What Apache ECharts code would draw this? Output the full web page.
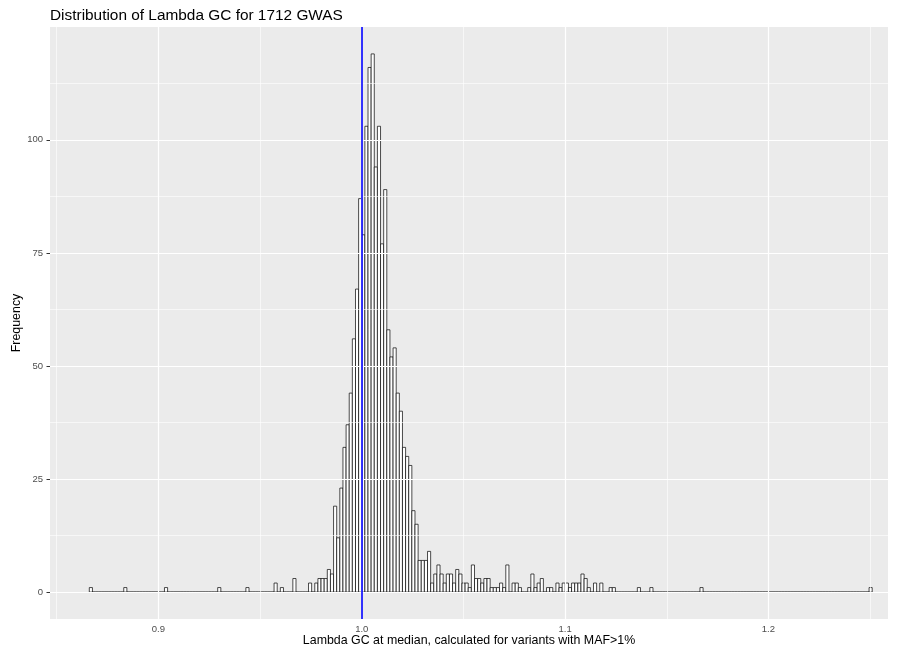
<!DOCTYPE html>
<html><head><meta charset="utf-8">
<script src="https://cdn.jsdelivr.net/npm/echarts@6/dist/echarts.min.js"></script>
<style>html,body{margin:0;padding:0;background:#fff}#c{width:900px;height:653px}</style>
</head><body><div id="c"></div>
<script>
// Histogram bins (250 equal-width bins; first bin centred on the smallest value)
const binFirstCenter = 0.8668;
const binWidth = 0.00154;
const binTotal = 250;
// Non-empty bins: index and frequency
const binIndex = [0, 11, 24, 41, 50, 59, 61, 65, 70, 72, 73, 74, 75, 76, 77,
  78, 79, 80, 81, 82, 83, 84, 85, 86, 87, 88, 89, 90, 91, 92, 93, 94, 95, 96, 97, 98, 99,
  100, 101, 102, 103, 104, 105, 106, 107, 108, 109, 110, 111, 112, 113, 114, 115, 116, 117,
  118, 119, 120, 121, 122, 123, 124, 125, 126, 127, 128, 129, 130, 131, 132, 133,
  135, 136, 137, 140, 141, 142, 143, 144, 146, 147, 149, 150, 151, 152, 153, 154, 155, 156,
  157, 158, 159, 161, 163, 166, 167, 175, 179, 195, 249];
const binFreq = [1, 1, 1, 1, 1, 2, 1, 3, 2, 2, 3, 3, 3, 5, 4,
  19, 12, 23, 32, 37, 44, 56, 67, 87, 79, 103, 116, 119, 94, 103, 77, 89, 58, 52, 54, 44, 40,
  32, 30, 28, 18, 15, 7, 7, 7, 9, 2, 4, 6, 4, 2, 4, 4, 2, 5,
  4, 2, 2, 1, 6, 3, 3, 2, 3, 3, 1, 1, 1, 2, 1, 6,
  2, 2, 1, 1, 4, 1, 2, 3, 1, 1, 2, 1, 2, 2, 1, 2, 2, 2,
  4, 3, 1, 2, 2, 1, 1, 1, 1, 1, 1];
const xTickValues = [0.9, 1.0, 1.1, 1.2];
const xMinorValues = [0.85, 0.95, 1.05, 1.15, 1.25];
const yTickValues = [0, 25, 50, 75, 100];
const yMinorValues = [12.5, 37.5, 62.5, 87.5, 112.5];
const referenceLine = 1.0;
const titleText = 'Distribution of Lambda GC for 1712 GWAS';
const xTitle = 'Lambda GC at median, calculated for variants with MAF>1%';
const yTitle = 'Frequency';

// Build full table of bins
const freqs = new Array(binTotal).fill(0);
binIndex.forEach((b, i) => { freqs[b] = binFreq[i]; });
const histData = freqs.map((f, i) => {
  const c = binFirstCenter + i * binWidth;
  return [c - binWidth / 2, c + binWidth / 2, f];
});

const chart = echarts.init(document.getElementById('c'), null, {renderer: 'canvas'});
const gridLine = (v, axis, w) => ({[axis]: v, lineStyle: {color: '#FFFFFF', width: w, type: 'solid'}});
const option = {
  animation: false,
  backgroundColor: '#FFFFFF',
  title: {
    text: titleText, left: 45, top: 3,
    textStyle: {fontFamily: 'Liberation Sans', fontSize: 15.4, fontWeight: 'normal', color: '#000000'}
  },
  grid: {left: 50, right: 12, top: 27, bottom: 34, show: true, backgroundColor: '#EBEBEB', borderWidth: 0,
    containLabel: false, outerBoundsMode: 'none'},
  xAxis: {
    type: 'value', min: 0.8467, max: 1.2588,
    name: xTitle, nameLocation: 'middle', nameGap: 16, nameMoveOverlap: false,
    nameTextStyle: {fontFamily: 'Liberation Sans', fontSize: 12.4, color: '#000000'},
    axisLine: {show: false},
    axisTick: {show: true, customValues: xTickValues, length: 3.5, lineStyle: {color: '#333333', width: 1}},
    axisLabel: {customValues: xTickValues, formatter: v => v.toFixed(1), margin: 5,
      fontFamily: 'Liberation Sans', fontSize: 9.5, color: '#4D4D4D'},
    splitLine: {show: false}
  },
  yAxis: {
    type: 'value', min: -5.95, max: 124.95,
    name: yTitle, nameLocation: 'middle', nameGap: 27, nameRotate: 90, nameMoveOverlap: false,
    nameTextStyle: {fontFamily: 'Liberation Sans', fontSize: 12.4, color: '#000000'},
    axisLine: {show: false},
    axisTick: {show: true, customValues: yTickValues, length: 3.5, lineStyle: {color: '#333333', width: 1}},
    axisLabel: {customValues: yTickValues, margin: 7,
      fontFamily: 'Liberation Sans', fontSize: 9.5, color: '#4D4D4D'},
    splitLine: {show: false}
  },
  series: [
    {
      type: 'line', data: [], z: 1, silent: true,
      markLine: {
        silent: true, symbol: ['none', 'none'], label: {show: false}, animation: false,
        data: [
          ...xMinorValues.map(v => gridLine(v, 'xAxis', 0.6)),
          ...yMinorValues.map(v => gridLine(v, 'yAxis', 0.6)),
          ...xTickValues.map(v => gridLine(v, 'xAxis', 1.2)),
          ...yTickValues.map(v => gridLine(v, 'yAxis', 1.2))
        ]
      }
    },
    {
      type: 'custom', z: 2, silent: true,
      data: histData,
      encode: {x: [0, 1], y: 2},
      renderItem: function (params, api) {
        const p0 = api.coord([api.value(0), api.value(2)]);
        const p1 = api.coord([api.value(1), 0]);
        return {
          type: 'rect',
          shape: {x: p0[0], y: p0[1], width: p1[0] - p0[0], height: Math.max(p1[1] - p0[1], 0.001)},
          style: {fill: '#FFFFFF', stroke: '#000000', lineWidth: 0.7}
        };
      }
    },
    {
      type: 'line', data: [], z: 3, silent: true,
      markLine: {
        silent: true, symbol: ['none', 'none'], label: {show: false}, animation: false,
        data: [{xAxis: referenceLine, lineStyle: {color: '#0000FF', width: 1.6, type: 'solid'}}]
      }
    }
  ]
};
chart.setOption(option);
</script></body></html>
